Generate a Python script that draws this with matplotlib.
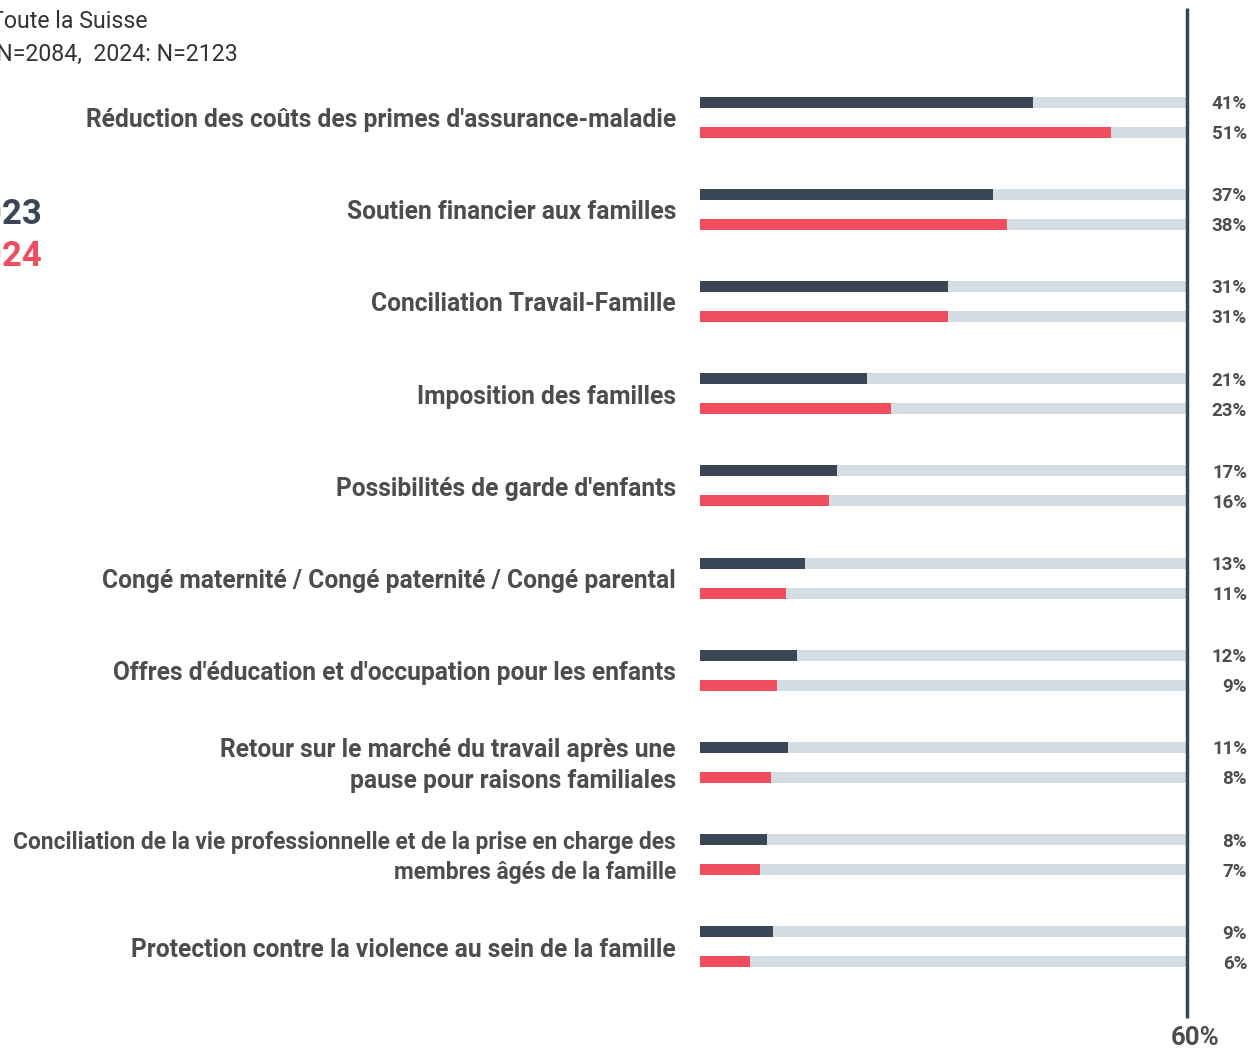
import matplotlib
matplotlib.use("Agg")
import matplotlib.pyplot as plt

plt.rcParams['font.family'] = ['Roboto', 'DejaVu Sans']

categories = [
    "Réduction des coûts des primes d'assurance-maladie",
    "Soutien financier aux familles",
    "Conciliation Travail-Famille",
    "Imposition des familles",
    "Possibilités de garde d'enfants",
    "Congé maternité / Congé paternité / Congé parental",
    "Offres d'éducation et d'occupation pour les enfants",
    "Retour sur le marché du travail après une\npause pour raisons familiales",
    "Conciliation de la vie professionnelle et de la prise en charge des\nmembres âgés de la famille",
    "Protection contre la violence au sein de la famille",
]
values_2023 = [41.0, 36.1, 30.6, 20.6, 16.9, 12.9, 11.95, 10.8, 8.3, 9.0]
values_2024 = [50.6, 37.8, 30.6, 23.5, 15.9, 10.6, 9.5, 8.7, 7.4, 6.2]
labels_2023 = ["41%", "37%", "31%", "21%", "17%", "13%", "12%", "11%", "8%", "9%"]
labels_2024 = ["51%", "38%", "31%", "23%", "16%", "11%", "9%", "8%", "7%", "6%"]
xmax = 60

DARK = "#3a4556"
RED = "#f04e5e"
BG = "#d5dde4"
TXT = "#4d4d4d"

W, H = 1260, 1050
fig = plt.figure(figsize=(W / 100, H / 100), dpi=100)
x0, x1 = 700, 1187
ax = fig.add_axes([x0 / W, 0, (x1 - x0) / W, 1])
ax.set_xlim(0, xmax)
sp = 92.2
top = -117 / sp
bot = (H - 117) / sp
ax.set_ylim(bot, top)
ax.axis('off')

px = xmax / (x1 - x0)  # data units per pixel (x)
off = 15 / sp
bh = 11 / sp
n = len(categories)
for i in range(n):
    ax.barh(i - off, xmax, height=bh, color=BG, linewidth=0)
    ax.barh(i + off, xmax, height=bh, color=BG, linewidth=0)
    ax.barh(i - off, values_2023[i], height=bh, color=DARK, linewidth=0)
    ax.barh(i + off, values_2024[i], height=bh, color=RED, linewidth=0)
    fs = 16.4 if i == 8 else 17.7
    ax.text(-24 * px, i + 3 / sp, categories[i], ha='right', va='center',
            fontsize=fs, fontweight='bold', color=TXT, linespacing=1.4, clip_on=False)
    ax.text(xmax + 60 * px, i - off + 2 / sp, labels_2023[i], ha='right', va='center',
            fontsize=13.5, fontweight='bold', color=TXT, clip_on=False)
    ax.text(xmax + 60 * px, i + off + 2 / sp, labels_2024[i], ha='right', va='center',
            fontsize=13.5, fontweight='bold', color=TXT, clip_on=False)

ax.plot([xmax, xmax], [(8 - 117) / sp, (1018 - 117) / sp], color=DARK, lw=2.5,
        solid_capstyle='butt', clip_on=False)
ax.text(xmax + 8 * px, (1038 - 117) / sp, "60%", ha='center', va='center',
        fontsize=18.5, fontweight='bold', color=TXT, clip_on=False)

fig.text(148 / W, 1 - 22 / H, "Toute la Suisse", ha='right', va='center',
         fontsize=16.7, color="#333333")
fig.text(238 / W, 1 - 54 / H, "2023: N=2084,  2024: N=2123", ha='right', va='center',
         fontsize=16.7, color="#333333")
fig.text(43 / W, 1 - 214 / H, "2023", ha='right', va='center',
         fontsize=25, fontweight='bold', color=DARK)
fig.text(43 / W, 1 - 257 / H, "2024", ha='right', va='center',
         fontsize=25, fontweight='bold', color=RED)

fig.savefig("out.png", dpi=100)
